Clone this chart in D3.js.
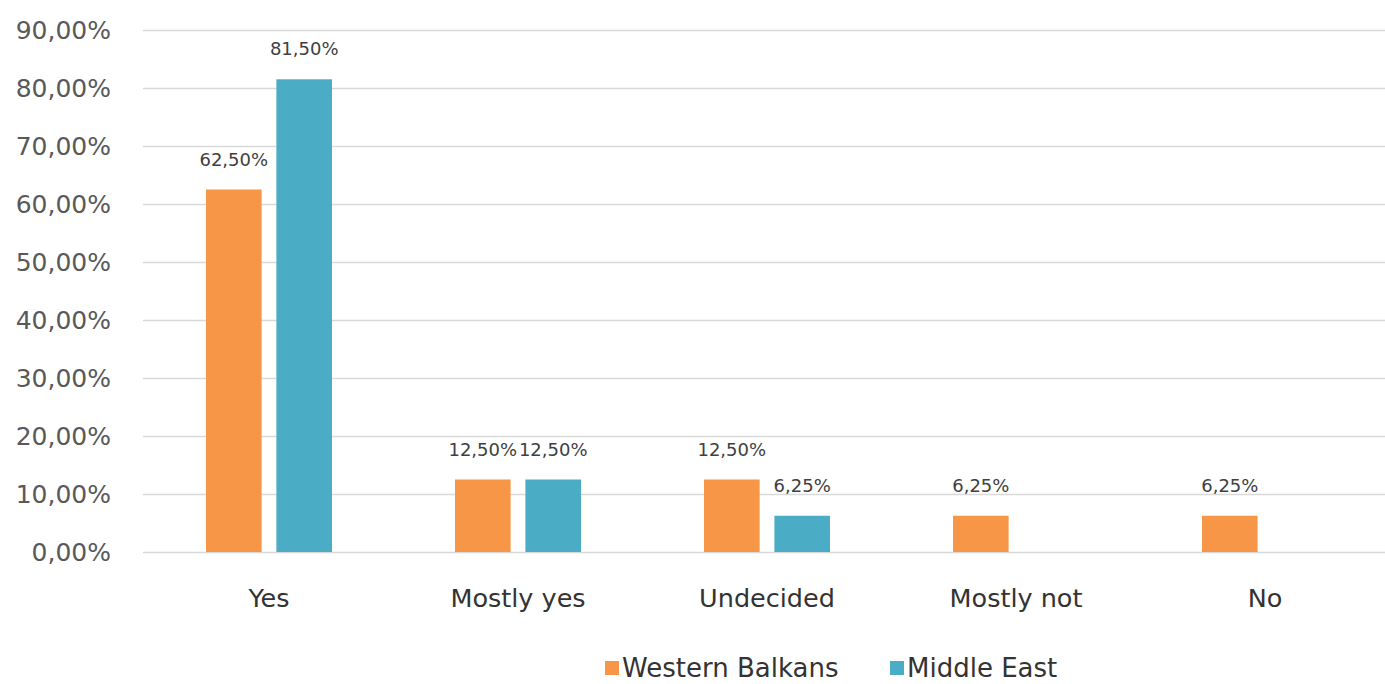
<!DOCTYPE html>
<html><head><meta charset="utf-8">
<script src="https://cdn.jsdelivr.net/npm/d3@7"></script>
<style>body{margin:0;background:#fff;}svg{display:block;font-family:"DejaVu Sans","Noto Sans",sans-serif;}</style>
</head><body>
<svg id="c" width="1385" height="684"></svg>
<script>
const categories = ["Yes", "Mostly yes", "Undecided", "Mostly not", "No"];
const seriesNames = ["Western Balkans", "Middle East"];
const westernBalkans = [62.5, 12.5, 12.5, 6.25, 6.25];
const middleEast = [81.5, 12.5, 6.25, null, null];
const yTicks = [0, 10, 20, 30, 40, 50, 60, 70, 80, 90];
const colors = ["#F79646", "#4BACC6"];

const svg = d3.select("#c");
const x = d3.scaleBand().domain(categories).range([144.5, 1389.5]);
const y = d3.scaleLinear().domain([0, 90]).range([552, 30]);
const sub = d3.scaleBand().domain(seriesNames).range([-63, 63]).paddingInner(0.21);
const fmt = v => v.toFixed(2).replace(".", ",") + "%";

// gridlines
svg.append("g").selectAll("line").data(yTicks).join("line")
  .attr("x1", 143).attr("x2", 1385)
  .attr("y1", d => Math.round(y(d)) + 0.5).attr("y2", d => Math.round(y(d)) + 0.5)
  .attr("stroke", "#d9d9d9").attr("stroke-width", 1.3);

// y labels
svg.append("g").selectAll("text").data(yTicks).join("text")
  .attr("x", 111).attr("y", d => y(d)).attr("dy", "0.36em")
  .attr("text-anchor", "end").attr("font-size", 25).attr("fill", "#595959")
  .text(d => fmt(d));

const series = [westernBalkans, middleEast];
series.forEach((vals, si) => {
  const g = svg.append("g");
  const data = categories.map((c, i) => ({c, v: vals[i]})).filter(d => d.v != null);
  g.selectAll("rect").data(data).join("rect")
    .attr("x", d => x(d.c) + x.bandwidth() / 2 + sub(seriesNames[si]))
    .attr("width", sub.bandwidth())
    .attr("y", d => y(d.v)).attr("height", d => y(0) - y(d.v))
    .attr("fill", colors[si]);
  g.selectAll("text").data(data).join("text")
    .attr("x", d => x(d.c) + x.bandwidth() / 2 + sub(seriesNames[si]) + sub.bandwidth() / 2)
    .attr("y", d => y(d.v) - 24)
    .attr("text-anchor", "middle").attr("font-size", 18).attr("fill", "#404040")
    .text(d => fmt(d.v));
});

// category labels
svg.append("g").selectAll("text").data(categories).join("text")
  .attr("x", d => x(d) + x.bandwidth() / 2).attr("y", 598).attr("dy", "0.35em")
  .attr("text-anchor", "middle").attr("font-size", 25.5).attr("fill", "#333333")
  .text(d => d);

// legend
const leg = [{name: seriesNames[0], x: 605}, {name: seriesNames[1], x: 890}];
leg.forEach((l, i) => {
  svg.append("rect").attr("x", l.x).attr("y", 661).attr("width", 14).attr("height", 14).attr("fill", colors[i]);
  svg.append("text").attr("x", l.x + 17).attr("y", 668).attr("dy", "0.36em")
    .attr("font-size", 26).attr("fill", "#333333").text(l.name);
});
</script>
</body></html>
